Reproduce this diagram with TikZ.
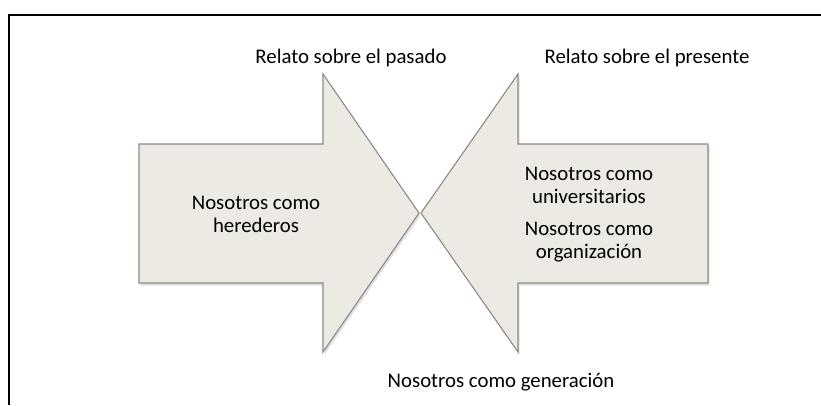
\documentclass[tikz,border=0pt]{standalone}
\usepackage{fontspec}
\setmainfont{Carlito}
\usetikzlibrary{shadows}
\definecolor{arrowfill}{HTML}{ECEAE2}
\definecolor{arrowline}{HTML}{8A8A88}
\tikzstyle{bigarrow}=[fill=arrowfill,draw=arrowline,line width=1.1pt,line join=miter,
  drop shadow={opacity=0.25,shadow xshift=1.5pt,shadow yshift=-2.5pt}]
\tikzstyle{label}=[align=center,inner sep=0pt,font=\fontsize{20.8}{23}\selectfont]

\begin{document}
\begin{tikzpicture}[x=1pt,y=-1pt]
\useasboundingbox (0,0) rectangle (821,405);
\draw[line width=2pt] (9,405) -- (9,15) -- (821,15);

\draw[bigarrow] (139,144) -- (323,144) -- (323,74) -- (419,213) -- (323,352) -- (323,283) -- (139,283) -- cycle;
\draw[bigarrow] (708,144) -- (518,144) -- (518,74) -- (421,213) -- (518,352) -- (518,283) -- (708,283) -- cycle;

\node[label] at (351,58) (pasado) {Relato sobre el pasado};
\node[label] at (647,58) (presente) {Relato sobre el presente};
\node[label] at (256,214) (herederos) {Nosotros como\\herederos};
\node[label] at (589,215) (univ) {Nosotros como\\universitarios\\[9pt]Nosotros como\\organización};
\node[label] at (501,382) (generacion) {Nosotros como generación};

\end{tikzpicture}
\end{document}
